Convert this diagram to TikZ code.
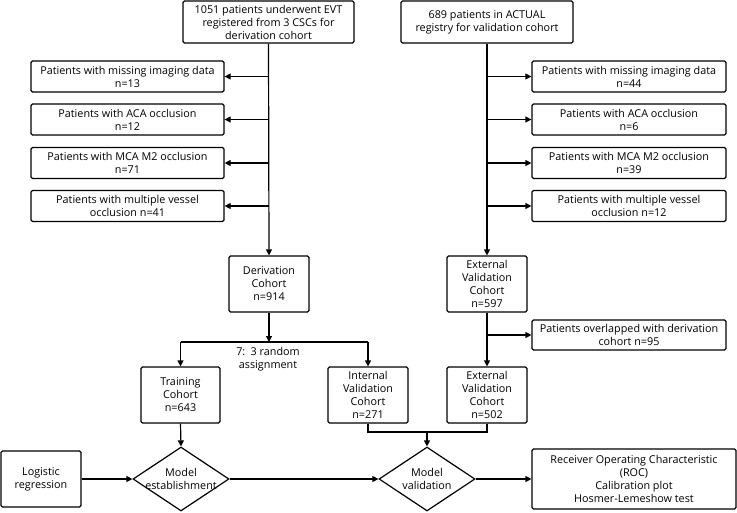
\documentclass[tikz,border=0pt]{standalone}
\usepackage{fontspec}
\setmainfont{Open Sans}
\usetikzlibrary{arrows.meta,shapes.geometric}
\tikzset{
	flowbox/.style={draw, line width=1.2pt, rounded corners=1.5pt, align=center, inner sep=1pt, font=\fontsize{10.8}{13}\selectfont},
	decision/.style={draw, diamond, line width=1.2pt, aspect=1.5, inner sep=0pt, inner xsep=-9pt, align=center, minimum width=96, minimum height=64, font=\fontsize{10.8}{13}\selectfont},
	arr/.style={line width=1.2pt, -{Triangle[length=6pt,width=6pt]}},
	ln/.style={line width=1.2pt}
}

\begin{document}
\begin{tikzpicture}[x=1pt, y=-1pt]
		%%%%% START %%%%%
		\useasboundingbox (0, 0) rectangle (737, 512);
		
		% derivation side
		\node[flowbox, minimum width=171, minimum height=42] (src1) at (268.5, 22) {1051 patients underwent EVT\\registered from 3 CSCs for\\derivation cohort};
		\node[flowbox, minimum width=193, minimum height=31] (exA1) at (127.5, 76.5) {Patients with missing imaging data\\n=13};
		\node[flowbox, minimum width=193, minimum height=31] (exA2) at (127.5, 119.5) {Patients with ACA occlusion\\n=12};
		\node[flowbox, minimum width=193, minimum height=31] (exA3) at (127.5, 163) {Patients with MCA M2 occlusion\\n=71};
		\node[flowbox, minimum width=193, minimum height=31] (exA4) at (127.5, 206) {Patients with multiple vessel\\occlusion n=41};
		\node[flowbox, minimum width=80, minimum height=56] (deriv) at (269, 284) {Derivation\\Cohort\\n=914};
		
		% validation side
		\node[flowbox, minimum width=172, minimum height=42] (src2) at (487, 22) {689 patients in ACTUAL\\registry for validation cohort};
		\node[flowbox, minimum width=194, minimum height=31] (exB1) at (629, 76.5) {Patients with missing imaging data\\n=44};
		\node[flowbox, minimum width=194, minimum height=31] (exB2) at (629, 119.5) {Patients with ACA occlusion\\n=6};
		\node[flowbox, minimum width=194, minimum height=31] (exB3) at (629, 163) {Patients with MCA M2 occlusion\\n=39};
		\node[flowbox, minimum width=194, minimum height=31] (exB4) at (629, 206) {Patients with multiple vessel\\occlusion n=12};
		\node[flowbox, minimum width=80, minimum height=56] (ext1) at (487, 284) {External\\Validation\\Cohort\\n=597};
		\node[flowbox, minimum width=194, minimum height=30] (overlap) at (629, 335) {Patients overlapped with derivation\\cohort n=95};
		
		% cohorts
		\node[flowbox, minimum width=79, minimum height=56] (train) at (180.5, 395) {Training\\Cohort\\n=643};
		\node[flowbox, minimum width=80, minimum height=56] (intval) at (368, 395) {Internal\\Validation\\Cohort\\n=271};
		\node[flowbox, minimum width=80, minimum height=56] (ext2) at (487, 395) {External\\Validation\\Cohort\\n=502};
		\node[align=center, inner sep=0pt, font=\fontsize{10.8}{13}\selectfont] (ratio) at (268, 359) {7:\enspace 3 random\\assignment};
		
		% model
		\node[flowbox, minimum width=80, minimum height=56] (logreg) at (41, 479) {Logistic\\regression};
		\node[decision] (modA) at (181, 479) {Model\\establishment};
		\node[decision] (modB) at (427, 479) {Model\\validation};
		\node[flowbox, minimum width=204, minimum height=60] (roc) at (634, 479) {Receiver Operating Characteristic\\(ROC)\\Calibration plot\\Hosmer-Lemeshow test};
		
		% connectors
		\draw[arr] (src1.south) -- (deriv.north);
		\foreach \n in {exA1, exA2, exA3, exA4}
			\draw[arr] (src1.south |- \n.east) -- (\n.east);
		\draw[arr] (src2.south) -- (ext1.north);
		\foreach \n in {exB1, exB2, exB3, exB4}
			\draw[arr] (src2.south |- \n.west) -- (\n.west);
		
		\coordinate (split) at (269, 342);
		\draw[arr] (deriv.south) -- (split);
		\draw[ln] (train.north |- split) -- (intval.north |- split);
		\draw[arr] (train.north |- split) -- (train.north);
		\draw[arr] (intval.north |- split) -- (intval.north);
		
		\draw[arr] (ext1.south) -- (ext2.north);
		\draw[arr] (ext1.south |- overlap.west) -- (overlap.west);
		
		\coordinate (join) at (427, 432);
		\draw[ln] (intval.south) -- (intval.south |- join) -- (ext2.south |- join) -- (ext2.south);
		\draw[arr] (join) -- (modB.north);
		
		\draw[arr] (train.south) -- (modA.north);
		\draw[arr] (logreg.east) -- (modA.west);
		\draw[arr] (modA.east) -- (modB.west);
		\draw[arr] (modB.east) -- (roc.west);
		%%%%% END %%%%%
	\end{tikzpicture}
\end{document}
